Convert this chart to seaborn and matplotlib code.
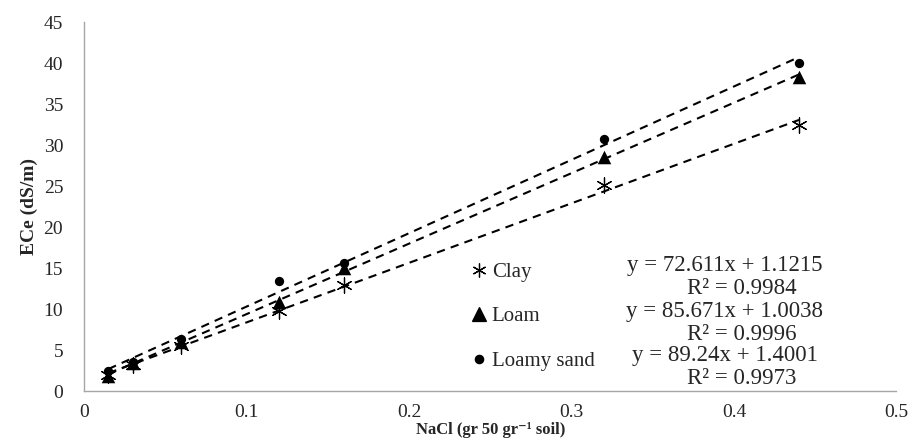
import matplotlib
matplotlib.use("Agg")
import matplotlib.pyplot as plt
from matplotlib.lines import Line2D
import pandas as pd
import seaborn as sns

# NaCl added (gr per 50 gr soil)
nacl = [0.015, 0.03, 0.06, 0.12, 0.16, 0.32, 0.44]
clay = [2.0, 3.2, 5.5, 9.8, 12.9, 25.1, 32.5]
loam = [1.8, 3.4, 6.0, 10.9, 15.0, 28.6, 38.3]
loamy_sand = [2.4, 3.5, 6.4, 13.4, 15.6, 30.7, 40.0]

soils = ["Clay", "Loam", "Loamy sand"]
equations = ["y = 72.611x + 1.1215", "y = 85.671x + 1.0038", "y = 89.24x + 1.4001"]
r2_labels = ["R² = 0.9984", "R² = 0.9996", "R² = 0.9973"]

df = pd.DataFrame({"NaCl": nacl * 3,
                   "ECe": clay + loam + loamy_sand,
                   "soil": [s for s in soils for _ in nacl]})

sns.set_style("white")
plt.rcParams["font.family"] = ["Liberation Serif", "DejaVu Serif"]

fig = plt.figure(figsize=(9.16, 4.43), dpi=100)
ax = fig.add_axes([0.0917, 0.117, 0.887, 0.833])

markers = {"Clay": (6, 2, 0), "Loam": "^", "Loamy sand": "o"}
sizes = {"Clay": 120, "Loam": 95, "Loamy sand": 45}

for s in soils:
    sub = df[df["soil"] == s]
    sns.regplot(data=sub, x="NaCl", y="ECe", ax=ax, ci=None, truncate=True,
                scatter=False, line_kws=dict(color="black", lw=1.5, ls=(0, (4, 3))))
    ax.scatter(sub["NaCl"], sub["ECe"], marker=markers[s], s=sizes[s],
               color="black", linewidths=0.9 if s == "Clay" else 0, zorder=3)

ax.set_xlim(0, 0.5)
ax.set_ylim(0, 45)
ax.set_xticks([0, 0.1, 0.2, 0.3, 0.4, 0.5])
ax.set_xticklabels(["0", "0.1", "0.2", "0.3", "0.4", "0.5"])
ax.set_yticks(range(0, 46, 5))
for side in ["top", "right"]:
    ax.spines[side].set_visible(False)
for side in ["left", "bottom"]:
    ax.spines[side].set_color("#a6a6a6")
    ax.spines[side].set_linewidth(1.0)
ax.tick_params(axis="both", which="both", direction="out", length=5, width=1,
               color="#a6a6a6", labelsize=14, pad=4)
ax.tick_params(axis="y", pad=10)
ax.set_xlabel("NaCl (gr 50 gr\u207b\u00b9 soil)", fontsize=12, fontweight="bold", labelpad=1)
ax.set_ylabel("ECe (dS/m)", fontsize=14, fontweight="bold", labelpad=4)

handles = [Line2D([], [], ls="none", marker=markers[s], color="black",
                  markersize=10 if s != "Loamy sand" else 6, markeredgewidth=0.9)
           for s in soils]
leg = ax.legend(handles, soils, loc="upper left", bbox_to_anchor=(0.466, 0.372),
                frameon=False, fontsize=15, handlelength=0.8, handletextpad=0.2,
                labelspacing=1.2, borderaxespad=0)

eq_y = [265, 311, 355]
for eq, r2, yp in zip(equations, r2_labels, eq_y):
    fig.text(725 / 916, 1 - yp / 443, eq, fontsize=16.5, ha="center", va="center")
    fig.text(742 / 916, 1 - (yp + 23) / 443, r2, fontsize=16.5, ha="center", va="center")

fig.savefig("out.png", dpi=100)
